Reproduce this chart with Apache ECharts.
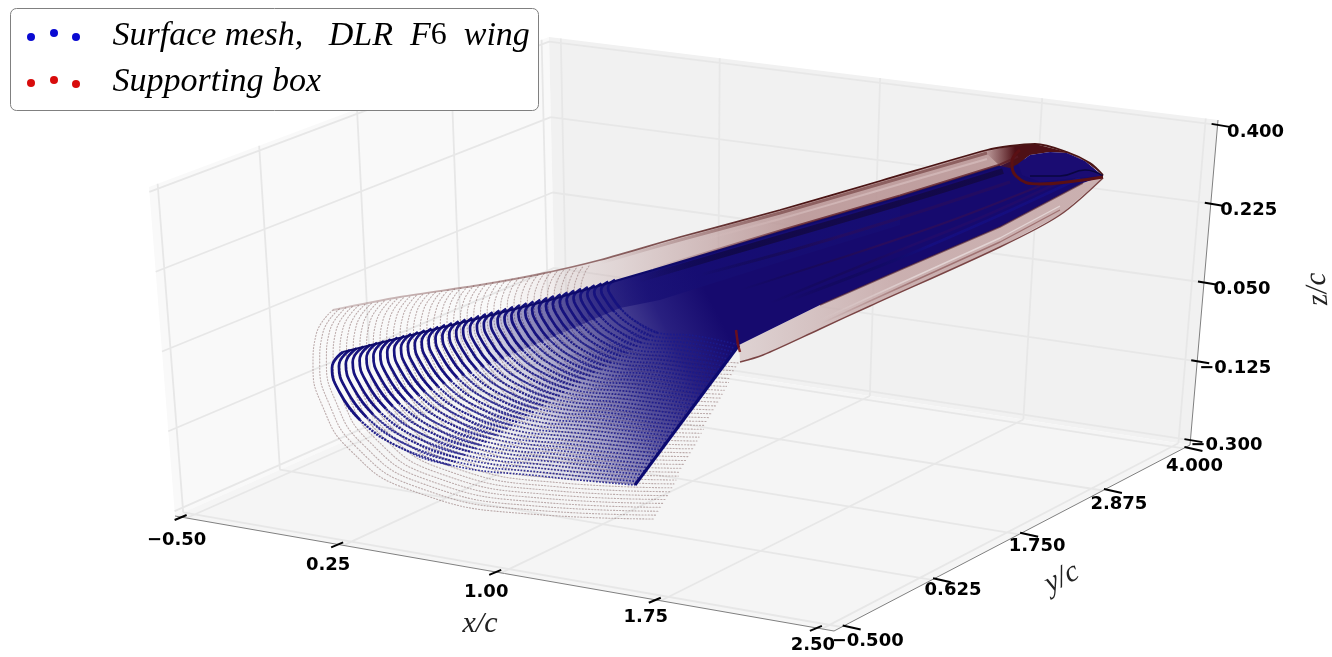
<!DOCTYPE html>
<html><head><meta charset="utf-8">
<style>html,body{margin:0;padding:0;background:#fff}#c{width:1332px;height:657px}</style>
<script src="https://cdn.jsdelivr.net/npm/echarts@6/dist/echarts.min.js"></script>
</head><body><div id="c"></div>
<script>
// ---- tick values ----
const xTicks=[-0.5,0.25,1,1.75,2.5];
const yTicks=[-0.5,0.625,1.75,2.875,4];
const zTicks=[-0.3,-0.125,0.05,0.225,0.4];
const xTickLabels=['\u22120.50','0.25','1.00','1.75','2.50'];
const yTickLabels=['\u22120.500','0.625','1.750','2.875','4.000'];
const zTickLabels=['\u22120.300','\u22120.125','0.050','0.225','0.400'];

// ---- mesh sections (picture units, x,y pairs, leading edge to trailing edge) ----
const blueSections=[
[343,352,332,368,340,393,360,420,395,445,450,465,540,476,635,485],
[349.8,350.2,338.9,366,346.8,390.6,366.5,417.2,401,441.9,455.2,461.7,543.9,472.5,637.6,481.5],
[356.6,348.4,345.8,364,353.6,388.2,373,414.4,407,438.8,460.4,458.4,547.8,469,640.2,478],
[363.4,346.6,352.7,362,360.4,385.8,379.5,411.6,413,435.7,465.6,455.1,551.7,465.5,642.8,474.5],
[370.2,344.8,359.6,360,367.2,383.4,386,408.8,419,432.6,470.8,451.8,555.6,462,645.4,471],
[377,343,366.5,358,374,381,392.5,406,425,429.5,476,448.5,559.5,458.5,648,467.5],
[383.8,341.2,373.4,356,380.8,378.6,399,403.2,431,426.4,481.2,445.2,563.4,455,650.6,464],
[390.6,339.4,380.3,354,387.6,376.2,405.5,400.4,437,423.3,486.4,441.9,567.3,451.5,653.2,460.5],
[397.4,337.6,387.2,352,394.4,373.8,412,397.6,443,420.2,491.6,438.6,571.2,448,655.8,457],
[404.2,335.8,394.1,350,401.2,371.4,418.5,394.8,449,417.1,496.8,435.3,575.1,444.5,658.4,453.5],
[411,334,401,348,408,369,425,392,455,414,502,432,579,441,661,450],
[417.8,332.2,407.9,346,414.8,366.6,431.5,389.2,461,410.9,507.2,428.7,582.9,437.5,663.6,446.5],
[424.6,330.4,414.8,344,421.6,364.2,438,386.4,467,407.8,512.4,425.4,586.8,434,666.2,443],
[431.4,328.6,421.7,342,428.4,361.8,444.5,383.6,473,404.7,517.6,422.1,590.7,430.5,668.8,439.5],
[438.2,326.8,428.6,340,435.2,359.4,451,380.8,479,401.6,522.8,418.8,594.6,427,671.4,436],
[445,325,435.5,338,442,357,457.5,378,485,398.5,528,415.5,598.5,423.5,674,432.5],
[451.8,323.2,442.4,336,448.8,354.6,464,375.2,491,395.4,533.2,412.2,602.4,420,676.6,429],
[458.6,321.4,449.3,334,455.6,352.2,470.5,372.4,497,392.3,538.4,408.9,606.3,416.5,679.2,425.5],
[465.4,319.6,456.2,332,462.4,349.8,477,369.6,503,389.2,543.6,405.6,610.2,413,681.8,422],
[472.2,317.8,463.1,330,469.2,347.4,483.5,366.8,509,386.1,548.8,402.3,614.1,409.5,684.4,418.5],
[479,316,470,328,476,345,490,364,515,383,554,399,618,406,687,415],
[485.8,314.2,476.9,326,482.8,342.6,496.5,361.2,521,379.9,559.2,395.7,621.9,402.5,689.6,411.5],
[492.6,312.4,483.8,324,489.6,340.2,503,358.4,527,376.8,564.4,392.4,625.8,399,692.2,408],
[499.4,310.6,490.7,322,496.4,337.8,509.5,355.6,533,373.7,569.6,389.1,629.7,395.5,694.8,404.5],
[506.2,308.8,497.6,320,503.2,335.4,516,352.8,539,370.6,574.8,385.8,633.6,392,697.4,401],
[513,307,504.5,318,510,333,522.5,350,545,367.5,580,382.5,637.5,388.5,700,397.5],
[519.8,305.2,511.4,316,516.8,330.6,529,347.2,551,364.4,585.2,379.2,641.4,385,702.6,394],
[526.6,303.4,518.3,314,523.6,328.2,535.5,344.4,557,361.3,590.4,375.9,645.3,381.5,705.2,390.5],
[533.4,301.6,525.2,312,530.4,325.8,542,341.6,563,358.2,595.6,372.6,649.2,378,707.8,387],
[540.2,299.8,532.1,310,537.2,323.4,548.5,338.8,569,355.1,600.8,369.3,653.1,374.5,710.4,383.5],
[547,298,539,308,544,321,555,336,575,352,606,366,657,371,713,380],
[553.8,296.2,545.9,306,550.8,318.6,561.5,333.2,581,348.9,611.2,362.7,660.9,367.5,715.6,376.5],
[560.6,294.4,552.8,304,557.6,316.2,568,330.4,587,345.8,616.4,359.4,664.8,364,718.2,373],
[567.4,292.6,559.7,302,564.4,313.8,574.5,327.6,593,342.7,621.6,356.1,668.7,360.5,720.8,369.5],
[574.2,290.8,566.6,300,571.2,311.4,581,324.8,599,339.6,626.8,352.8,672.6,357,723.4,366],
[581,289,573.5,298,578,309,587.5,322,605,336.5,632,349.5,676.5,353.5,726,362.5],
[587.8,287.2,580.4,296,584.8,306.6,594,319.2,611,333.4,637.2,346.2,680.4,350,728.6,359],
[594.6,285.4,587.3,294,591.6,304.2,600.5,316.4,617,330.3,642.4,342.9,684.3,346.5,731.2,355.5],
[601.4,283.6,594.2,292,598.4,301.8,607,313.6,623,327.2,647.6,339.6,688.2,343,733.8,352],
[608.2,281.8,601.1,290,605.2,299.4,613.5,310.8,629,324.1,652.8,336.3,692.1,339.5,736.4,348.5],
[615,280,608,288,612,297,620,308,635,321,658,333,696,336,739,345]
];
const redSections=[
[333,310,316,335,313,365,322,405,350,450,410,490,530,514,655,519],
[339.4,308.9,322.7,333.5,319.7,363.1,328.6,402.6,356.2,447,415.4,486.5,533.8,510.1,657.1,515.1],
[345.8,307.8,329.4,332,326.4,361.2,335.2,400.2,362.4,444,420.8,483,537.6,506.2,659.2,511.2],
[352.2,306.7,336.1,330.5,333.1,359.3,341.8,397.8,368.6,441,426.2,479.5,541.4,502.3,661.3,507.3],
[358.6,305.6,342.8,329,339.8,357.4,348.4,395.4,374.8,438,431.6,476,545.2,498.4,663.4,503.4],
[365,304.5,349.5,327.5,346.5,355.5,355,393,381,435,437,472.5,549,494.5,665.5,499.5],
[371.4,303.4,356.2,326,353.2,353.6,361.6,390.6,387.2,432,442.4,469,552.8,490.6,667.6,495.6],
[377.8,302.3,362.9,324.5,359.9,351.7,368.2,388.2,393.4,429,447.8,465.5,556.6,486.7,669.7,491.7],
[384.2,301.2,369.6,323,366.6,349.8,374.8,385.8,399.6,426,453.2,462,560.4,482.8,671.8,487.8],
[390.6,300.1,376.3,321.5,373.3,347.9,381.4,383.4,405.8,423,458.6,458.5,564.2,478.9,673.9,483.9],
[397,299,383,320,380,346,388,381,412,420,464,455,568,475,676,480],
[403.4,297.9,389.7,318.5,386.7,344.1,394.6,378.6,418.2,417,469.4,451.5,571.8,471.1,678.1,476.1],
[409.8,296.8,396.4,317,393.4,342.2,401.2,376.2,424.4,414,474.8,448,575.6,467.2,680.2,472.2],
[416.2,295.7,403.1,315.5,400.1,340.3,407.8,373.8,430.6,411,480.2,444.5,579.4,463.3,682.3,468.3],
[422.6,294.6,409.8,314,406.8,338.4,414.4,371.4,436.8,408,485.6,441,583.2,459.4,684.4,464.4],
[429,293.5,416.5,312.5,413.5,336.5,421,369,443,405,491,437.5,587,455.5,686.5,460.5],
[435.4,292.4,423.2,311,420.2,334.6,427.6,366.6,449.2,402,496.4,434,590.8,451.6,688.6,456.6],
[441.8,291.3,429.9,309.5,426.9,332.7,434.2,364.2,455.4,399,501.8,430.5,594.6,447.7,690.7,452.7],
[448.2,290.2,436.6,308,433.6,330.8,440.8,361.8,461.6,396,507.2,427,598.4,443.8,692.8,448.8],
[454.6,289.1,443.3,306.5,440.3,328.9,447.4,359.4,467.8,393,512.6,423.5,602.2,439.9,694.9,444.9],
[461,288,450,305,447,327,454,357,474,390,518,420,606,436,697,441],
[467.4,286.9,456.7,303.5,453.7,325.1,460.6,354.6,480.2,387,523.4,416.5,609.8,432.1,699.1,437.1],
[473.8,285.8,463.4,302,460.4,323.2,467.2,352.2,486.4,384,528.8,413,613.6,428.2,701.2,433.2],
[480.2,284.7,470.1,300.5,467.1,321.3,473.8,349.8,492.6,381,534.2,409.5,617.4,424.3,703.3,429.3],
[486.6,283.6,476.8,299,473.8,319.4,480.4,347.4,498.8,378,539.6,406,621.2,420.4,705.4,425.4],
[493,282.5,483.5,297.5,480.5,317.5,487,345,505,375,545,402.5,625,416.5,707.5,421.5],
[499.4,281.4,490.2,296,487.2,315.6,493.6,342.6,511.2,372,550.4,399,628.8,412.6,709.6,417.6],
[505.8,280.3,496.9,294.5,493.9,313.7,500.2,340.2,517.4,369,555.8,395.5,632.6,408.7,711.7,413.7],
[512.2,279.2,503.6,293,500.6,311.8,506.8,337.8,523.6,366,561.2,392,636.4,404.8,713.8,409.8],
[518.6,278.1,510.3,291.5,507.3,309.9,513.4,335.4,529.8,363,566.6,388.5,640.2,400.9,715.9,405.9],
[525,277,517,290,514,308,520,333,536,360,572,385,644,397,718,402],
[531.4,275.9,523.7,288.5,520.7,306.1,526.6,330.6,542.2,357,577.4,381.5,647.8,393.1,720.1,398.1],
[537.8,274.8,530.4,287,527.4,304.2,533.2,328.2,548.4,354,582.8,378,651.6,389.2,722.2,394.2],
[544.2,273.7,537.1,285.5,534.1,302.3,539.8,325.8,554.6,351,588.2,374.5,655.4,385.3,724.3,390.3],
[550.6,272.6,543.8,284,540.8,300.4,546.4,323.4,560.8,348,593.6,371,659.2,381.4,726.4,386.4],
[557,271.5,550.5,282.5,547.5,298.5,553,321,567,345,599,367.5,663,377.5,728.5,382.5],
[563.4,270.4,557.2,281,554.2,296.6,559.6,318.6,573.2,342,604.4,364,666.8,373.6,730.6,378.6],
[569.8,269.3,563.9,279.5,560.9,294.7,566.2,316.2,579.4,339,609.8,360.5,670.6,369.7,732.7,374.7],
[576.2,268.2,570.6,278,567.6,292.8,572.8,313.8,585.6,336,615.2,357,674.4,365.8,734.8,370.8],
[582.6,267.1,577.3,276.5,574.3,290.9,579.4,311.4,591.8,333,620.6,353.5,678.2,361.9,736.9,366.9],
[589,266,584,275,581,289,586,309,598,330,626,350,682,358,739,363]
];

// ---- wing outlines ----
const redTopEdge=[[333,310],[400,297],[480,285],[540,274],[600,260],[680,237],[780,210],[880,181],[987,150],[1010,146],[1035,144],[1067,152],[1090,163],[1103,175]];
const blueTopEdge=[[343,352],[480,318],[550,300],[653,270],[780,232],[900,197],[1000,166],[1018,158]];
const blueLowerEdge=[[1103,176],[1083,183],[1000,227],[900,270],[820,305],[739,345]];
const blueTrailing=[[635,485],[739,345]];
const redLowerEdge=[[740,362],[763,355],[820,329],[870,306],[1000,247],[1060,215],[1103,178]];
const noseWedge=[[479,316],[550,300],[653,270],[780,232],[900,197],[900,225],[780,262],[660,300],[620,308],[555,336],[490,364]];
const tipEye=[[1018,164],[1030,155],[1050,152],[1067,153],[1085,161],[1103,176],[1075,178],[1040,182],[1022,175]];
const tipCap=[[985,152],[1010,146],[1035,144],[1067,152],[1090,163],[1103,175],[1085,161],[1067,153],[1050,152],[1030,155],[1018,164],[1010,168],[1000,166]];
const tipDark=[[1030,176],[1060,176],[1085,170],[1103,176]];
const kinkSpot=[[736,330],[738,345],[740,352]];
const tipRing=[[1020,150],[1012,162],[1016,176],[1040,184],[1075,181],[1103,177]];
const spanStripes=[
 {p:[[640,279],[780,238],[900,203],[1003,171]],c:'rgba(18,8,64,0.8)',w:6},
 {p:[[700,275],[800,248],[900,218],[1010,182]],c:'rgba(42,12,90,0.6)',w:3},
 {p:[[740,290],[850,255],[950,221],[1040,186]],c:'rgba(60,14,76,0.5)',w:2},
 {p:[[770,303],[880,258],[980,218],[1060,182]],c:'rgba(42,12,102,0.5)',w:2.5},
 {p:[[790,300],[900,258],[1000,215],[1080,178]],c:'rgba(20,16,138,0.6)',w:3}
];

// ---- picture of the box (layout, not data) ----
const W=1332,H=657;
const corner={ '000':[175,516],'100':[834,631],'010':[556,348],'110':[1190,445],
               '001':[149,187],'101':[800,300],'011':[549,37],'111':[1218,120] };
const warpV=v=>v+0.08*v*(1-v), warpU=u=>u-0.02*u*(1-u);
const nx=x=>0.018+0.964*(x+0.5)/3, ny=y=>0.02+0.96*(y+0.5)/4.5, nz=z=>0.015+0.97*(z+0.3)/0.7;
function P(u0,v0,w){
  const u=warpU(u0),v=warpV(v0),out=[0,0];
  for(const k in corner){
    const f=(k[0]==='1'?u:1-u)*(k[1]==='1'?v:1-v)*(k[2]==='1'?w:1-w);
    out[0]+=f*corner[k][0]; out[1]+=f*corner[k][1];
  }
  return out;
}
const gap=[NaN,NaN];
const grad=(x,y,x2,y2,stops)=>({type:'linear',x,y,x2,y2,global:true,colorStops:stops.map(s=>({offset:s[0],color:s[1]}))});

// grid lines, ticks, axis edges
const gridData=[];
function seg(a,b){gridData.push(a,b,gap);}
zTicks.forEach(z=>{const w=nz(z);seg(P(0,0,w),P(0,1,w));seg(P(0,1,w),P(1,1,w));});
yTicks.forEach(y=>{const v=ny(y);seg(P(0,v,0),P(0,v,1));seg(P(0,v,0),P(1,v,0));});
xTicks.forEach(x=>{const u=nx(x);seg(P(u,1,0),P(u,1,1));seg(P(u,0,0),P(u,1,0));});

const tickData=[];
const off=(p,d)=>[p[0]+d[0],p[1]+d[1]];
xTicks.forEach(x=>{const p=P(nx(x),0,0);tickData.push(off(p,[0,-3]),off(p,[-12,2]),gap);});
yTicks.forEach(y=>{const p=P(1,ny(y),0);tickData.push(off(p,[1,-1.5]),off(p,[19,2.5]),gap);});
zTicks.forEach(z=>{const p=P(1,1,nz(z));tickData.push(off(p,[-6,-1]),off(p,[12,2]),gap);});

const edgeData=[P(0,0,0),P(1,0,0),gap,P(1,0,0),P(1,1,0),gap,P(1,1,0),P(1,1,1)];

// tick labels
const yLabelOff=[[26,14],[21,11],[18,12],[16,14],[11,18]];
const xLabelOff=[[-10,22],[-15,20],[-15,19],[-15,17],[-9,16]];
const tickLabelData=[];
xTicks.forEach((x,i)=>tickLabelData.push({name:xTickLabels[i],value:off(P(nx(x),0,0),xLabelOff[i])}));
yTicks.forEach((y,i)=>tickLabelData.push({name:yTickLabels[i],value:off(P(1,ny(y),0),yLabelOff[i])}));
zTicks.forEach((z,i)=>tickLabelData.push({name:zTickLabels[i],value:off(P(1,1,nz(z)),i===0?[36,5]:[38,7])}));

// polygon helper
function polys(name,list,z){
  return {name,type:'custom',coordinateSystem:'cartesian2d',silent:true,z,clip:false,
    data:list.map((_,i)=>[i]),encode:{x:0},
    renderItem:(params,api)=>{
      const it=list[params.dataIndex];
      return {type:'polygon',shape:{points:it.p.map(q=>api.coord(q))},style:{fill:it.f}};
    }};
}
const panes=[
 {p:[P(0,0,0),P(0,1,0),P(0,1,1),P(0,0,1)],f:'#f9f9f9'},
 {p:[P(0,1,0),P(1,1,0),P(1,1,1),P(0,1,1)],f:'#f1f1f1'},
 {p:[P(0,0,0),P(1,0,0),P(1,1,0),P(0,1,0)],f:'#f5f5f5'}
];
const blueFade=grad(470,400,700,280,[[0,'rgba(24,16,120,0)'],[0.2,'rgba(24,16,120,0.1)'],[0.4,'rgba(24,16,120,0.4)'],[0.6,'rgba(24,16,120,0.72)'],[0.8,'rgba(24,14,118,0.92)'],[1,'rgba(22,10,110,1)']]);
const rootArc=blueSections[0];
const rootPts=[];for(let i=rootArc.length-2;i>=0;i-=2)rootPts.push([rootArc[i],rootArc[i+1]]);
const bluePoly=[...blueTopEdge,...blueLowerEdge,...rootPts];
const upperBand=[...redTopEdge.slice(2,11),...blueTopEdge.slice(1).reverse()];
const lowerBand=[...blueLowerEdge,...redLowerEdge];
const wingFills=[
 {p:upperBand,f:grad(500,0,800,0,[[0,'rgba(184,146,146,0)'],[0.4,'rgba(184,146,146,0.3)'],[1,'rgba(186,150,150,0.9)']])},
 {p:lowerBand,f:grad(745,0,900,0,[[0,'rgba(198,170,170,0.45)'],[1,'rgba(200,172,172,0.95)']])},
 {p:bluePoly,f:blueFade},
 {p:noseWedge,f:grad(480,0,650,0,[[0,'rgba(22,16,120,0)'],[1,'rgba(22,14,116,0.72)']])}
];
const tipFills=[{p:tipCap,f:grad(985,0,1015,0,[[0,'rgba(90,30,36,0)'],[1,'#4e1016']])},{p:tipEye,f:'#1a0c72'}];

function flat(rows,from,to){
  const out=[];
  rows.forEach(r=>{const a=from||0,b=to||r.length;for(let i=a;i<b;i+=2)out.push([r[i],r[i+1]]);out.push(gap);});
  return out;
}
const line=(name,data,color,width,extra)=>Object.assign({name,type:'line',data,showSymbol:false,symbol:'none',silent:true,clip:false,
   connectNulls:false,lineStyle:Object.assign({color,width},extra&&extra.ls||{})},extra&&extra.s||{});

// text series
const labelSeries=(name,data,label,z)=>({name,type:'scatter',data,symbolSize:1,silent:true,clip:false,z,
  itemStyle:{color:'rgba(0,0,0,0)',opacity:1},label:Object.assign({show:true,position:'inside',formatter:p=>p.name},label)});

const legendBlue=[[31,37],[54,33],[76,37]], legendRed=[[31,83],[54,80],[76,84]];
const serif='"Liberation Serif",serif';

const series=[
 polys('Panes',panes,1),
 line('Grid',gridData,'#e7e7e7',1.8,{s:{z:2}}),
 line('Axis edges',edgeData,'#808080',1,{s:{z:3}}),
 line('Ticks',tickData,'#000',2,{s:{z:3}}),
 labelSeries('Tick labels',tickLabelData,{color:'#000',fontFamily:'"DejaVu Sans",sans-serif',fontWeight:'bold',fontSize:18},4),
 labelSeries('x title',[{name:'x/c',value:[480,624]}],{color:'#222',fontFamily:serif,fontStyle:'italic',fontSize:30},4),
 labelSeries('y title',[{name:'y/c',value:[1062,578]}],{color:'#222',fontFamily:serif,fontStyle:'italic',fontSize:30,rotate:27},4),
 labelSeries('z title',[{name:'z/c',value:[1318,289]}],{color:'#222',fontFamily:serif,fontStyle:'italic',fontSize:30,rotate:95},4),

 line('Supporting box',flat(redSections),'rgba(130,95,95,0.5)',1.1,{ls:{type:[1.1,2],cap:'round'},s:{smooth:0.5,z:5}}),
 polys('Wing fills',wingFills,6),
 line('Surface mesh',flat(blueSections),'rgba(26,26,140,0.88)',1.7,{ls:{type:[1.7,1.5]},s:{smooth:0.5,z:7}}),
 line('Surface mesh mid',flat(blueSections,6,12),'rgba(22,20,130,0.8)',2.1,{ls:{type:[2.2,0.9]},s:{smooth:0.5,z:7}}),
 line('Surface mesh nose',flat(blueSections,0,8),'#16127e',2.7,{s:{smooth:0.5,z:7}})
];
spanStripes.forEach((s,i)=>series.push(line('Span '+i,s.p,grad(s.p[0][0],0,s.p[0][0]+140,0,[[0,'rgba(0,0,0,0)'],[1,s.c]]),s.w,{s:{z:8,smooth:0.3}})));
series.push(
 line('Blue top',[[343,352],[480,318],[550,300],[653,270],[780,232],[900,197],[1000,166]],'#0e0a6a',2.2,{s:{z:8}}),
 line('Blue trailing',blueTrailing,'#0c0a70',3,{s:{z:8}}),
 line('Red top',redTopEdge,grad(340,0,800,0,[[0,'rgba(120,70,70,0.3)'],[0.5,'rgba(100,40,40,0.6)'],[1,'#4a1414']]),1.8,{s:{z:9,smooth:0.3}}),
 line('Red top glow',redTopEdge.slice(4,9).map(q=>[q[0],q[1]+3]),grad(600,0,780,0,[[0,'rgba(120,70,70,0)'],[1,'rgba(120,70,70,0.7)']]),3,{s:{z:8,smooth:0.3}}),
 line('Upper pale',redTopEdge.slice(5,9).map(q=>[q[0],q[1]+9]),grad(680,0,820,0,[[0,'rgba(215,190,190,0)'],[1,'rgba(215,190,190,0.7)']]),2,{s:{z:8,smooth:0.3}}),
 line('Blue top maroon',blueTopEdge.slice(3).map(q=>[q[0],q[1]-1.5]),grad(650,0,800,0,[[0,'rgba(90,25,35,0)'],[1,'rgba(90,25,35,0.75)']]),2,{s:{z:9}}),
 line('Red lower',redLowerEdge,'#7a4444',1.4,{s:{z:9,smooth:0.3}}),
 line('Lower stripe',redLowerEdge.slice(2,6).map(q=>[q[0],q[1]-5]),grad(820,0,920,0,[[0,'rgba(150,100,100,0)'],[1,'rgba(150,100,100,0.8)']]),1.4,{s:{z:9}}),
 line('Lower pale',redLowerEdge.slice(2,6).map(q=>[q[0],q[1]-9]),grad(820,0,920,0,[[0,'rgba(232,220,220,0)'],[1,'rgba(232,220,220,0.8)']]),1.4,{s:{z:9}}),
 line('Lower dark',blueLowerEdge.slice(1,5),'rgba(80,30,40,0.6)',1.5,{s:{z:9}}),
 polys('Tip',tipFills,9),
 line('Tip dark',tipDark,'#0a0640',1.6,{s:{z:10,smooth:0.5}}),
 line('Tip ring',tipRing,'#5a1014',3,{s:{z:10,smooth:0.5}}),
 line('Kink',kinkSpot,'rgba(120,16,16,0.85)',2.5,{s:{z:10}}),
 {name:'Legend blue',type:'scatter',data:legendBlue,symbolSize:8,silent:true,z:21,itemStyle:{color:'#0a0ad2',opacity:1}},
 {name:'Legend red',type:'scatter',data:legendRed,symbolSize:8,silent:true,z:21,itemStyle:{color:'#d80c0c',opacity:1}},
 labelSeries('Legend text',[{name:'Surface mesh, DLR F6 wing',value:[112,36]},{name:'Supporting box',value:[112,82]}],{
   position:'right',distance:0,color:'#000',formatter:p=>p.name.indexOf('6')>=0?'{i|Surface mesh,   DLR  F}{n|6}{i|  wing}':'{i|'+p.name+'}',
   rich:{i:{fontFamily:serif,fontStyle:'italic',fontSize:34,color:'#000'},n:{fontFamily:serif,fontSize:32,color:'#000'}}},21)
);

const chart=echarts.init(document.getElementById('c'),null,{renderer:'canvas',width:W,height:H});
chart.setOption({
 animation:false,backgroundColor:'#fff',
 grid:{left:0,right:0,top:0,bottom:0},
 xAxis:{type:'value',min:0,max:W,show:false},
 yAxis:{type:'value',min:0,max:H,inverse:true,show:false},
 tooltip:{show:false},
 graphic:[{type:'rect',z:20,shape:{x:10.5,y:8.5,width:528,height:102,r:6},style:{fill:'#fff',stroke:'#808080',lineWidth:1}}],
 series
});
</script></body></html>
